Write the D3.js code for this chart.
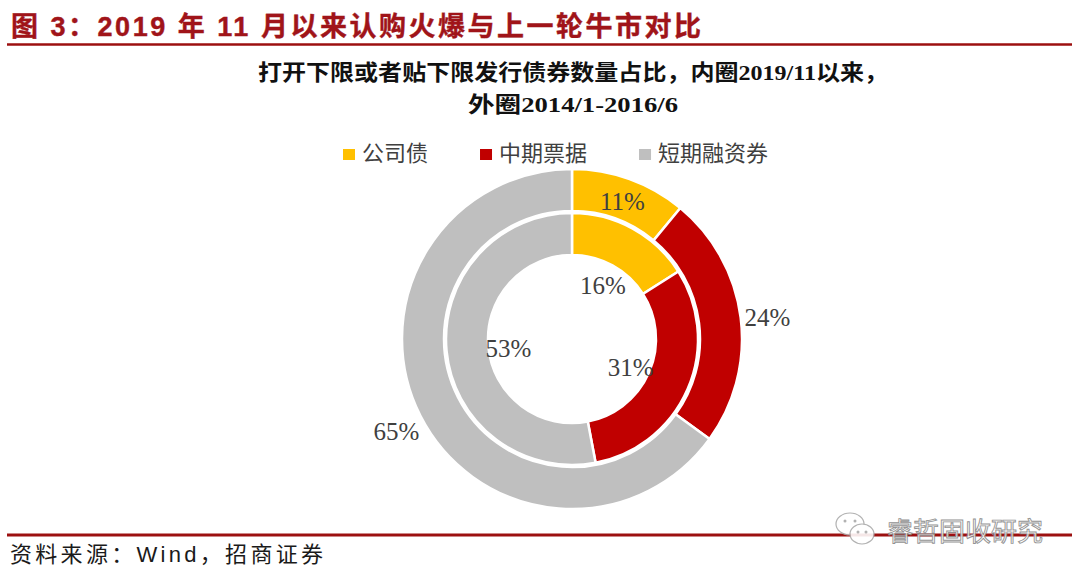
<!DOCTYPE html>
<html><head><meta charset="utf-8">
<script src="https://cdn.jsdelivr.net/npm/d3@7"></script>
<style>html,body{margin:0;padding:0;background:#fff;}svg{display:block;}</style>
</head><body>
<svg id="chart" width="1080" height="578"></svg>
<script>
// ---- data ----
const categories = ["公司债", "中期票据", "短期融资券"];
const innerValues = [16, 31, 53];   // 内圈 2019/11以来
const outerValues = [11, 24, 65];   // 外圈 2014/1-2016/6
const colors = ["#FFC000", "#C00000", "#BFBFBF"];
const outerLabelMode = ["inside", "outside", "outside"];
const titleText = "图 3：2019 年 11 月以来认购火爆与上一轮牛市对比";
const subtitleLines = ["打开下限或者贴下限发行债券数量占比，内圈2019/11以来，", "外圈2014/1-2016/6"];
const sourceText = "资料来源：Wind，招商证券";
const watermarkText = "睿哲固收研究";

const svg = d3.select("#chart");
const darkRed = "#9c1010";

// title
svg.append("text").attr("x", 11).attr("y", 36)
  .attr("font-family", "'Liberation Sans','Noto Sans CJK SC',sans-serif")
  .attr("font-weight", "bold").attr("font-size", 27).attr("fill", "#a01419")
  .attr("stroke", "#a01419").attr("stroke-width", 0.4)
  .attr("textLength", 690).attr("lengthAdjust", "spacing")
  .text(titleText);
svg.append("line").attr("x1", 7).attr("x2", 1072).attr("y1", 44.5).attr("y2", 44.5)
  .attr("stroke", darkRed).attr("stroke-width", 2.5);

// subtitle
const cx = 572, cy = 339;
const subLens = [630, 210];
const subY = [80, 112];
subtitleLines.forEach((t, i) => {
  svg.append("text").attr("x", cx + 1).attr("y", subY[i]).attr("text-anchor", "middle")
    .attr("font-family", "'Liberation Serif','Noto Sans CJK SC',serif")
    .attr("font-weight", "bold").attr("font-size", 22).attr("fill", "#111")
    .attr("textLength", subLens[i]).attr("lengthAdjust", "spacingAndGlyphs")
    .text(t);
});

// legend
const legend = svg.append("g");
let lx = 343;
categories.forEach((c, i) => {
  legend.append("rect").attr("x", lx).attr("y", 149).attr("width", 12).attr("height", 11).attr("fill", colors[i]);
  const t = legend.append("text").attr("x", lx + 19).attr("y", 161)
    .attr("font-family", "'Noto Sans CJK SC',sans-serif").attr("font-size", 22).attr("fill", "#404040")
    .text(c);
  const w = t.node().getComputedTextLength();
  lx += 19 + w + 52;
});

// donut
const pie = d3.pie().sort(null).value(d => d).startAngle(0).endAngle(2 * Math.PI);
const outerArc = d3.arc().innerRadius(128).outerRadius(170);
const innerArc = d3.arc().innerRadius(84).outerRadius(126);
const g = svg.append("g").attr("transform", `translate(${cx},${cy})`);

const outerData = pie(outerValues);
const innerData = pie(innerValues);

g.selectAll("path.outer").data(outerData).join("path").attr("class", "outer")
  .attr("d", outerArc).attr("fill", (d, i) => colors[i])
  .attr("stroke", "#fff").attr("stroke-width", 2.5);
g.selectAll("path.inner").data(innerData).join("path").attr("class", "inner")
  .attr("d", innerArc).attr("fill", (d, i) => colors[i])
  .attr("stroke", "#fff").attr("stroke-width", 2.5);

function polar(angle, r) { return [Math.sin(angle) * r, -Math.cos(angle) * r]; }
const labelFont = "'Liberation Serif','Times New Roman',serif";

function addLabel(p, txt) {
  g.append("text").attr("x", p[0]).attr("y", p[1] + 3).attr("text-anchor", "middle")
    .attr("dominant-baseline", "central")
    .attr("font-family", labelFont).attr("font-size", 25).attr("fill", "#404040")
    .text(txt);
}
outerData.forEach((d, i) => {
  const mid = (d.startAngle + d.endAngle) / 2;
  const p = outerLabelMode[i] === "inside" ? outerArc.centroid(d) : polar(mid, 197);
  addLabel(p, d.data + "%");
});
innerData.forEach((d) => {
  const mid = (d.startAngle + d.endAngle) / 2;
  addLabel(polar(mid, 64), d.data + "%");
});

// footer
svg.append("line").attr("x1", 7).attr("x2", 1072).attr("y1", 535).attr("y2", 535)
  .attr("stroke", darkRed).attr("stroke-width", 3);
svg.append("text").attr("x", 10).attr("y", 562)
  .attr("font-family", "'Liberation Sans','Noto Sans CJK SC',sans-serif")
  .attr("font-size", 22).attr("fill", "#1a1a1a")
  .attr("textLength", 313).attr("lengthAdjust", "spacing")
  .text(sourceText);

// watermark
const wm = svg.append("g").attr("opacity", 0.9);
wm.append("ellipse").attr("cx", 850).attr("cy", 524).attr("rx", 14).attr("ry", 11)
  .attr("fill", "#fff").attr("stroke", "#aaa").attr("stroke-width", 1.2);
wm.append("ellipse").attr("cx", 862).attr("cy", 534).attr("rx", 12).attr("ry", 10)
  .attr("fill", "#fff").attr("stroke", "#aaa").attr("stroke-width", 1.2);
[[845, 521], [855, 521], [858, 532], [866, 532]].forEach(p => {
  wm.append("circle").attr("cx", p[0]).attr("cy", p[1]).attr("r", 1.5).attr("fill", "#aaa");
});
wm.append("text").attr("x", 887).attr("y", 541)
  .attr("font-family", "'Noto Sans CJK SC',sans-serif").attr("font-size", 26)
  .attr("fill", "#fff").attr("stroke", "#888").attr("stroke-width", 0.9)
  .attr("textLength", 156).attr("lengthAdjust", "spacingAndGlyphs")
  .text(watermarkText);
</script>
</body></html>
